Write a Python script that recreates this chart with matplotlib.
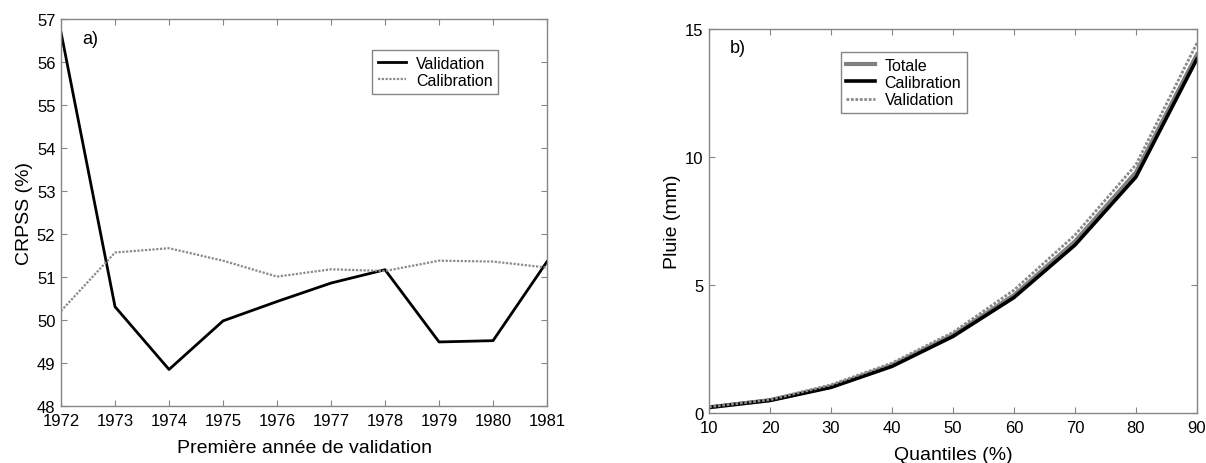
import matplotlib.pyplot as plt

plt.rcParams["font.family"] = ["Liberation Sans", "DejaVu Sans"]

# ── data ─────────────────────────────────────────────────────────────────────
years = [1972, 1973, 1974, 1975, 1976, 1977, 1978, 1979, 1980, 1981]
crpss_validation = [56.69, 50.31, 48.85, 49.98, 50.43, 50.86, 51.17, 49.49, 49.52, 51.36]
crpss_calibration = [50.21, 51.57, 51.67, 51.38, 51.01, 51.18, 51.14, 51.38, 51.36, 51.22]

quantiles = [10, 20, 30, 40, 50, 60, 70, 80, 90]
pluie_totale = [0.22, 0.50, 1.03, 1.87, 3.05, 4.60, 6.70, 9.40, 14.00]
pluie_calibration = [0.22, 0.49, 1.00, 1.82, 2.99, 4.51, 6.56, 9.22, 13.83]
pluie_validation = [0.24, 0.52, 1.10, 1.95, 3.15, 4.80, 6.95, 9.70, 14.45]

spine_grey = "#858585"
line_grey = "#8a8a8a"


def style_axes(ax):
    for s in ax.spines.values():
        s.set_color(spine_grey)
        s.set_linewidth(1.0)
    ax.tick_params(direction="in", top=True, right=True, length=4,
                   color=spine_grey, labelsize=12)
    ax.tick_params(axis="x", pad=5)
    ax.tick_params(axis="y", pad=4)


fig = plt.figure(figsize=(12.06, 4.64), dpi=100)

# ── a) ───────────────────────────────────────────────────────────────────────
ax1 = fig.add_axes([0.0506, 0.1228, 0.403, 0.834])
ax1.plot(years, crpss_validation, color="black", lw=2.0, label="Validation")
ax1.plot(years, crpss_calibration, color=line_grey, lw=1.6, ls=(0, (1, 0.7)),
         label="Calibration")
ax1.set_xlim(1972, 1981)
ax1.set_ylim(48, 57)
ax1.set_xticks(years)
ax1.set_yticks(range(48, 58))
ax1.set_xlabel("Première année de validation", fontsize=14, labelpad=8)
ax1.set_ylabel("CRPSS (%)", fontsize=14, labelpad=3)
ax1.text(0.043, 0.95, "a)", transform=ax1.transAxes, fontsize=13, va="center")
style_axes(ax1)
leg1 = ax1.legend(loc="upper left", bbox_to_anchor=(0.64, 0.92), fontsize=11.5,
                  fancybox=False, edgecolor=spine_grey, framealpha=1,
                  handlelength=1.8, handletextpad=0.6, labelspacing=0.15,
                  borderpad=0.35, borderaxespad=0)
leg1.get_frame().set_linewidth(1.0)

# ── b) ───────────────────────────────────────────────────────────────────────
ax2 = fig.add_axes([0.5879, 0.1078, 0.4046, 0.8276])
ax2.plot(quantiles, pluie_totale, color="#808080", lw=3.0, label="Totale")
ax2.plot(quantiles, pluie_calibration, color="black", lw=2.6, label="Calibration")
ax2.plot(quantiles, pluie_validation, color=line_grey, lw=2.0, ls=(0, (1, 0.6)),
         label="Validation")
ax2.set_xlim(10, 90)
ax2.set_ylim(0, 15)
ax2.set_xticks(quantiles)
ax2.set_yticks([0, 5, 10, 15])
ax2.set_xlabel("Quantiles (%)", fontsize=14, labelpad=8)
ax2.set_ylabel("Pluie (mm)", fontsize=14, labelpad=3)
ax2.text(0.043, 0.952, "b)", transform=ax2.transAxes, fontsize=13, va="center")
style_axes(ax2)
leg2 = ax2.legend(loc="upper left", bbox_to_anchor=(0.27, 0.94), fontsize=11.5,
                  fancybox=False, edgecolor=spine_grey, framealpha=1,
                  handlelength=1.8, handletextpad=0.6, labelspacing=0.15,
                  borderpad=0.35, borderaxespad=0)
leg2.get_frame().set_linewidth(1.0)

fig.savefig("out.png", dpi=100)
